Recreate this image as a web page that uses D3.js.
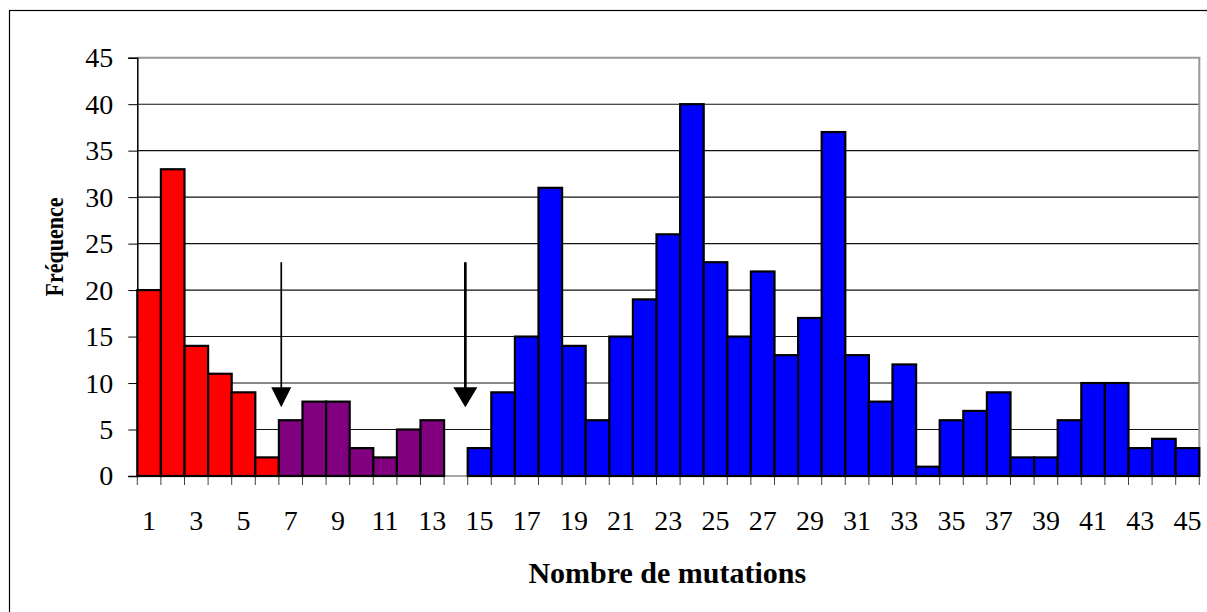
<!DOCTYPE html>
<html><head><meta charset="utf-8">
<script src="https://cdn.jsdelivr.net/npm/d3@7"></script>
<style>html,body{margin:0;padding:0;background:#fff;}svg{display:block;}</style>
</head><body>
<svg id="chart" width="1207" height="612"></svg>
<script>
const categories = d3.range(1, 46);
const frequencies = [20,33,14,11,9,2,6,8,8,3,2,5,6,0,3,9,15,31,14,6,15,19,26,40,23,15,22,13,17,37,13,8,12,1,6,7,9,2,2,6,10,10,3,4,3];
const groupOf = [
  "a","a","a","a","a","a",
  "b","b","b","b","b","b","b",
  "c","c","c","c","c","c","c","c","c","c","c","c","c","c","c","c","c","c","c","c","c","c","c","c","c","c","c","c","c","c","c","c"];
const groupColors = {a: "#ff0000", b: "#800080", c: "#0000ff"};
const yTicks = [0,5,10,15,20,25,30,35,40,45];
const xTickLabels = categories.filter(d => d % 2 === 1);
const arrows = [ {pos: 6.1, from: 23, to: 7.4, w: 1.7, head: 20}, {pos: 13.9, from: 23, to: 7.4, w: 2.7, head: 24} ];
const xTitle = "Nombre de mutations";
const yTitle = "Fréquence";

const svg = d3.select("#chart");
const L = 137.3, R = 1199.3, T = 57.7, B = 476;
const font = "'Liberation Serif','Times New Roman',serif";

// outer frame
svg.append("rect").attr("x", 9.5).attr("y", 10.5).attr("width", 1220).attr("height", 640)
  .attr("fill", "none").attr("stroke", "#000").attr("stroke-width", 1.2);

const x = d3.scaleBand().domain(categories).range([L, R]).padding(0);
const xLin = d3.scaleLinear().domain([0, 45]).range([L, R]);
const y = d3.scaleLinear().domain([0, 45]).range([B, T]);

// gridlines
svg.append("g").selectAll("line").data(yTicks.filter(v => v > 0 && v < 45)).join("line")
  .attr("x1", L).attr("x2", R).attr("y1", d => y(d)).attr("y2", d => y(d))
  .attr("stroke", "#111").attr("stroke-width", 1.1);
// top & right plot border (gray)
svg.append("line").attr("x1", L).attr("x2", R + 1).attr("y1", y(45)).attr("y2", y(45))
  .attr("stroke", "#999").attr("stroke-width", 2);
svg.append("line").attr("x1", R).attr("x2", R).attr("y1", y(45)).attr("y2", B)
  .attr("stroke", "#999").attr("stroke-width", 2);

// x axis ticks at band boundaries
svg.append("g").selectAll("line").data(d3.range(0, 46)).join("line")
  .attr("x1", d => xLin(d)).attr("x2", d => xLin(d)).attr("y1", B).attr("y2", B + 9)
  .attr("stroke", "#444").attr("stroke-width", 1);
// x axis line
svg.append("line").attr("x1", L).attr("x2", R).attr("y1", B).attr("y2", B)
  .attr("stroke", "#888").attr("stroke-width", 1.5);

// y axis
const yAxis = svg.append("g").attr("transform", `translate(${L},0)`)
  .call(d3.axisLeft(y).tickValues(yTicks).tickSize(9).tickPadding(15).tickFormat(d3.format("d")));
yAxis.select(".domain").attr("stroke", "#000").attr("stroke-width", 1.5);
yAxis.selectAll(".tick line").attr("stroke", "#000").attr("stroke-width", 1);
yAxis.selectAll(".tick text").attr("font-family", font).attr("font-size", 28).attr("fill", "#000");

// bars
svg.append("g").selectAll("rect").data(categories.map((c, i) => ({c, v: frequencies[i], g: groupOf[i]})).filter(d => d.v > 0))
  .join("rect")
  .attr("x", d => x(d.c)).attr("width", x.bandwidth())
  .attr("y", d => y(d.v)).attr("height", d => y(0) - y(d.v))
  .attr("fill", d => groupColors[d.g]).attr("stroke", "#000").attr("stroke-width", 2.2);

// x tick labels
svg.append("g").selectAll("text").data(xTickLabels).join("text")
  .attr("x", d => x(d) + x.bandwidth() / 2).attr("y", 530)
  .attr("text-anchor", "middle").attr("font-family", font).attr("font-size", 28).attr("fill", "#000")
  .text(d => d);

// arrows
arrows.forEach(a => {
  const ax = xLin(a.pos);
  const tip = y(a.to);
  const headH = 20;
  svg.append("line").attr("x1", ax).attr("x2", ax).attr("y1", y(a.from)).attr("y2", tip - headH + 2)
    .attr("stroke", "#000").attr("stroke-width", a.w);
  svg.append("path")
    .attr("d", `M${ax - a.head / 2},${tip - headH}L${ax + a.head / 2},${tip - headH}L${ax},${tip}Z`)
    .attr("fill", "#000");
});

// titles
svg.append("text").attr("x", (L + R) / 2 - 1).attr("y", 583).attr("text-anchor", "middle")
  .attr("font-family", font).attr("font-weight", "bold").attr("font-size", 30).attr("fill", "#000")
  .text(xTitle);
svg.append("text").attr("transform", "translate(63,247) scale(1.15,1) rotate(-90)").attr("text-anchor", "middle")
  .attr("font-family", font).attr("font-weight", "bold").attr("font-size", 22).attr("fill", "#000")
  .text(yTitle);
</script>
</body></html>
